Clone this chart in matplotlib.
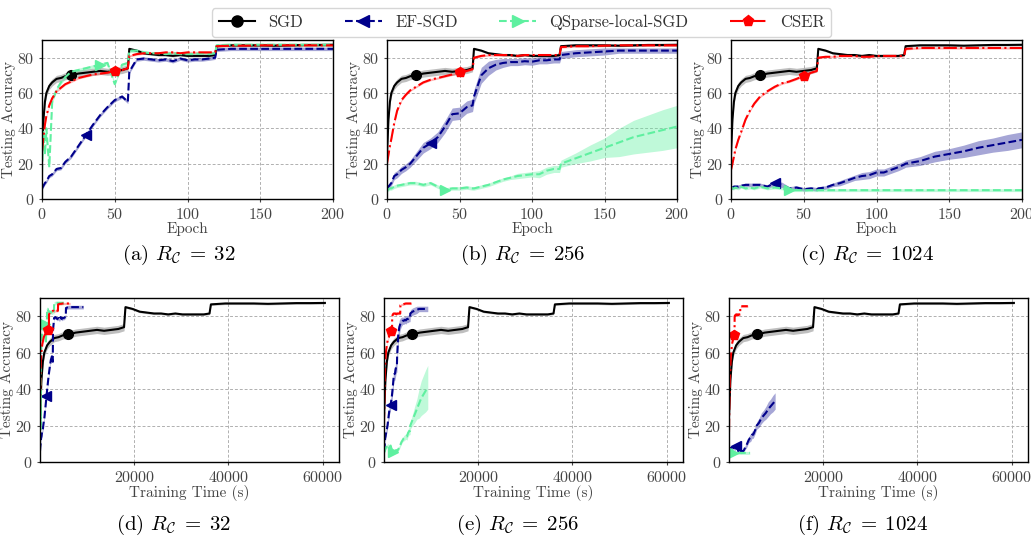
import numpy as np
import matplotlib
matplotlib.use("Agg")
import matplotlib.pyplot as plt
from matplotlib.lines import Line2D

plt.rcParams['font.family'] = 'cmr10'
plt.rcParams['mathtext.fontset'] = 'cm'
plt.rcParams['axes.formatter.use_mathtext'] = True

epochs = [0, 1, 2, 3, 5, 7, 10, 13, 16, 20, 25, 30, 35, 40, 45, 50, 55, 59,
          60, 65, 70, 75, 80, 85, 90, 95, 100, 105, 110, 115, 119,
          120, 130, 140, 150, 160, 170, 180, 190, 200]

# SGD is the same baseline in every panel
sgd_acc = [25, 45, 55, 60, 64, 66, 68, 68.5, 69.5, 70, 71, 71.5, 72, 72.5, 72, 72.5, 73, 74,
           85, 84, 82.5, 82, 81.5, 81.5, 81, 81.5, 81, 81, 81, 81, 81.5,
           86.5, 87, 87, 87, 86.8, 87, 87.2, 87.2, 87.3]
sgd_std = [1.5, 2, 2, 2, 2, 2, 2, 2, 2, 2, 2, 2, 2, 2, 2, 2, 2, 2] + [0.6] * 22

# (a) R_C = 32
ef_acc_32 = [6, 7.5, 9, 10, 13, 14, 17, 17.5, 21, 24, 30, 36, 42, 47.5, 52, 56, 58, 55,
             72, 79, 79.5, 79, 78.5, 79, 78, 79.5, 78.5, 79, 79, 79.5, 80,
             84.5, 85, 85, 85, 85, 85, 85, 85, 85]
qs_acc_32 = [15, 38, 25, 40, 18, 55, 62, 66, 69, 72, 73, 74, 75, 76, 77, 65, 76, 77,
             84, 84, 83, 82.5, 82.5, 82, 82.5, 82, 82, 82, 82.5, 82, 82.5,
             87, 87.3, 87.3, 87.3, 87.3, 87.3, 87.3, 87.3, 87.3]
cser_acc_32 = [27, 35, 42, 47, 53, 57, 61, 63, 65, 66.5, 68.5, 69.5, 70.5, 71, 71.5, 72.5, 73, 74,
               81, 82, 82.5, 82.5, 82.5, 83, 83, 82.5, 83, 83, 83, 83, 83,
               86.5, 86.8, 86.8, 87, 87, 87, 87, 87, 87]

# (b) R_C = 256
ef_acc_256 = [6, 7, 8, 9, 13, 14, 16.5, 18, 20, 24, 29, 31.5, 35, 41, 48, 48.5, 52, 53,
              58, 70, 74, 76, 77, 77.5, 77.5, 78, 77.7, 78.5, 78.5, 79, 79,
              81.5, 82.5, 83, 83.5, 84, 84, 84, 84, 84]
ef_std_256 = [1.5, 1.5, 1.5, 1.5, 2, 2, 2, 2, 2, 2.5, 3, 3, 3, 3.5, 3.5, 3.5, 3.5, 3.5,
              4, 4.5, 4, 3, 2.5, 2, 2, 2, 2, 2, 2, 2, 2,
              2, 2, 2, 2, 1.5, 1.5, 1.5, 1.5, 1.5]
qs_acc_256 = [5, 5.5, 6, 6, 7, 7.5, 8, 8.5, 9, 9, 8, 9, 7, 5.3, 6, 6, 6.5, 6,
              6, 7, 8, 9.5, 11, 12, 13, 13.5, 14, 14, 16, 17, 17,
              20, 23, 26, 29, 32, 35, 37, 39, 41]
qs_std_256 = [1, 1, 1, 1, 1, 1, 1, 1, 1, 1, 1, 1, 1, 1, 1, 1, 1, 1,
              1, 1, 1, 1, 1, 1, 1.5, 1.5, 1.5, 2, 2, 2, 2,
              2, 3, 4.5, 5.5, 8, 9.5, 10.5, 11.5, 12]
cser_acc_256 = [20, 25, 30, 34, 43, 50, 56, 59, 61.5, 63.5, 66, 67.5, 68.5, 69.5, 70.5, 71.7, 72.5, 73.5,
                80, 81, 81.5, 81.5, 81.5, 81.5, 81, 81.5, 81.5, 81.5, 81.5, 81.5, 81.5,
                86, 86.5, 86.5, 86.8, 87, 87, 87, 87, 87]

# (c) R_C = 1024
ef_acc_1024 = [6.5, 6.5, 7, 7, 7, 7.5, 8, 8, 8, 8, 7, 9, 8, 6, 6.5, 5.5, 6, 5.5,
               6, 6.5, 8, 9, 10.5, 12, 13, 13.5, 15, 15, 16.5, 18, 19.5,
               20, 21.5, 24, 25.5, 27, 29, 30.5, 32, 33.5]
ef_std_1024 = [1, 1, 1, 1, 1, 1, 1, 1, 1, 1, 1, 1.5, 1.5, 1, 1, 1, 1, 1,
               1, 1, 1, 1.5, 1.5, 1.5, 2, 2, 2, 2, 2, 2, 2,
               2, 2.5, 3, 3, 3.5, 4, 4, 4.5, 4.5]
qs_acc_1024 = [7, 6, 6, 6.5, 6, 7, 6, 6.5, 6, 7, 6, 6.5, 6, 5, 5, 5, 5, 5,
               5, 5, 5, 5, 5, 5, 5, 5, 5, 5, 5, 5, 5,
               5, 5, 5, 5, 5, 5, 5, 5, 5]
cser_acc_1024 = [16.5, 20, 24, 28, 33.5, 38, 45, 50, 54, 58, 61, 63.5, 65.5, 66.5, 68, 69.7, 71.5, 72.5,
                 80, 80.5, 80.5, 81, 81, 81, 80.5, 80.5, 81, 81, 81, 81, 81,
                 85, 85.5, 85.5, 85.5, 85.5, 85.5, 85.5, 85.5, 85.5]

# wall-clock seconds per epoch (for the bottom row), one per panel
sgd_sec = 302.5
ef_sec = [46, 46.5, 49]
qs_sec = [25, 46.5, 22]
cser_sec = [32, 29, 20]

ratios = ['32', '256', '1024']

ef_all = [ef_acc_32, ef_acc_256, ef_acc_1024]
ef_std_all = [[1.0] * 40, ef_std_256, ef_std_1024]
qs_all = [qs_acc_32, qs_acc_256, qs_acc_1024]
qs_std_all = [[1.0] * 40, qs_std_256, [0.8] * 40]
cser_all = [cser_acc_32, cser_acc_256, cser_acc_1024]

SGD_C = 'black'
EF_C = '#00008b'
QS_C = '#5ff0a0'
CSER_C = '#ff0000'

mark_at = {'sgd': epochs.index(20), 'ef': epochs.index(30),
           'qs': epochs.index(40), 'cser': epochs.index(50)}

W, H = 1031, 536
fig = plt.figure(figsize=(W / 100, H / 100), dpi=100)

# pixel boxes: left, right, top, bottom
top_boxes = [(42, 333, 40, 199), (387, 677, 40, 199), (731, 1022, 40, 199)]
bot_boxes = [(40, 339, 298, 462), (384, 683, 298, 462), (729, 1028, 298, 462)]


def make_ax(box):
    l, r, t, b = box
    return fig.add_axes([l / W, 1 - b / H, (r - l) / W, (b - t) / H])


def style_ax(ax):
    ax.grid(True, linestyle=(0, (3, 2)), color='#b0b0b0', linewidth=0.7)
    ax.set_axisbelow(True)
    ax.tick_params(labelsize=11.5, colors='#444444', length=2)
    for s in ax.spines.values():
        s.set_color('black')
        s.set_linewidth(1.0)
    ax.set_ylim(0, 90)
    ax.set_yticks([0, 20, 40, 60, 80])
    ax.set_ylabel('Testing Accuracy', fontsize=11, color='#444444', labelpad=1)


def draw(ax, x_sgd, x_ef, x_qs, x_cser, i):
    s = np.array(sgd_acc)
    ss = np.array(sgd_std)
    ax.fill_between(x_sgd, s - ss, s + ss, color='gray', alpha=0.5, lw=0)
    ax.plot(x_sgd, s, color=SGD_C, lw=1.5, ls='-', marker='o', ms=7,
            markevery=[mark_at['sgd']])

    e = np.array(ef_all[i])
    es = np.array(ef_std_all[i])
    ax.fill_between(x_ef, e - es, e + es, color=EF_C, alpha=0.35, lw=0)
    ax.plot(x_ef, e, color=EF_C, lw=1.5, ls='--', marker='<', ms=7,
            markevery=[mark_at['ef']])

    q = np.array(qs_all[i])
    qsd = np.array(qs_std_all[i])
    ax.fill_between(x_qs, q - qsd, q + qsd, color=QS_C, alpha=0.4, lw=0)
    ax.plot(x_qs, q, color=QS_C, lw=1.5, ls='--', marker='>', ms=7,
            markevery=[mark_at['qs']])

    c = np.array(cser_all[i])
    ax.fill_between(x_cser, c - 0.6, c + 0.6, color=CSER_C, alpha=0.3, lw=0)
    ax.plot(x_cser, c, color=CSER_C, lw=1.5, ls='-.', marker='p', ms=7,
            markevery=[mark_at['cser']])


letters_top = ['a', 'b', 'c']
letters_bot = ['d', 'e', 'f']
ep = np.array(epochs, dtype=float)

for i in range(3):
    ax = make_ax(top_boxes[i])
    draw(ax, ep, ep, ep, ep, i)
    style_ax(ax)
    ax.set_xlim(0, 200)
    ax.set_xticks([0, 50, 100, 150, 200])
    ax.set_xlabel('Epoch', fontsize=11, color='#444444', labelpad=0)
    l, r, t, b = top_boxes[i]
    fig.text(((l + r) / 2 - 9) / W, 1 - 255 / H,
             '(%s) $R_{\\mathcal{C}}\\;=\\;%s$' % (letters_top[i], ratios[i]),
             ha='center', va='center', fontsize=15)

    ax = make_ax(bot_boxes[i])
    draw(ax, ep * sgd_sec, ep * ef_sec[i], ep * qs_sec[i], ep * cser_sec[i], i)
    style_ax(ax)
    ax.set_xlim(0, 63500)
    ax.set_xticks([20000, 40000, 60000])
    ax.set_xlabel('Training Time (s)', fontsize=11, color='#444444', labelpad=0)
    l, r, t, b = bot_boxes[i]
    fig.text(((l + r) / 2 - 16) / W, 1 - 525 / H,
             '(%s) $R_{\\mathcal{C}}\\;=\\;%s$' % (letters_bot[i], ratios[i]),
             ha='center', va='center', fontsize=15)

handles = [
    Line2D([], [], color=SGD_C, lw=1.5, ls='-', marker='o', ms=8),
    Line2D([], [], color=EF_C, lw=1.5, ls='--', marker='<', ms=8),
    Line2D([], [], color=QS_C, lw=1.5, ls='--', marker='>', ms=8),
    Line2D([], [], color=CSER_C, lw=1.5, ls='-.', marker='p', ms=8),
]
leg = fig.legend(handles, ['SGD', 'EF-SGD', 'QSparse-local-SGD', 'CSER'],
                 loc='upper center', bbox_to_anchor=(0.506, 1.0), ncol=4,
                 fontsize=12, frameon=True, fancybox=True, handlelength=2.2,
                 columnspacing=2.5, borderpad=0.4)
for txt in leg.get_texts():
    txt.set_color('#333333')

fig.savefig('out.png', dpi=100)
